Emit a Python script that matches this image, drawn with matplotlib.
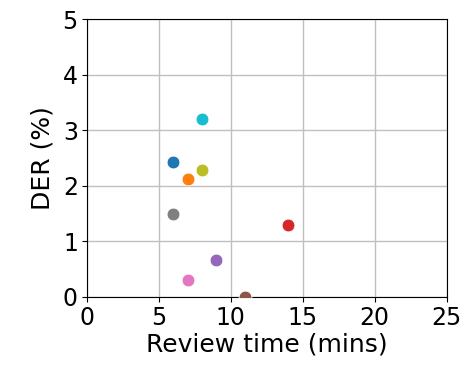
import matplotlib
matplotlib.use("Agg")
import matplotlib.pyplot as plt

review_time = [6, 7, 14, 9, 11, 7, 6, 8, 8]
der = [2.42, 2.12, 1.29, 0.67, 0.0, 0.31, 1.49, 2.29, 3.21]
colors = ["tab:blue", "tab:orange", "tab:red", "tab:purple", "tab:brown",
          "tab:pink", "tab:gray", "tab:olive", "tab:cyan"]

fig = plt.figure(figsize=(4.72, 3.67), dpi=100)
ax = fig.add_axes([0.184, 0.191, 0.762, 0.757])
for x, y, c in zip(review_time, der, colors):
    ax.scatter(x, y, s=85, color=c, edgecolors="white", linewidths=0.6, zorder=3)
ax.set_xlim(0, 25)
ax.set_ylim(0, 5)
ax.set_xticks([0, 5, 10, 15, 20, 25])
ax.set_yticks([0, 1, 2, 3, 4, 5])
ax.grid(True, color="#c0c0c0", linewidth=1.0)
ax.set_axisbelow(True)
ax.tick_params(labelsize=17, pad=3)
ax.set_xlabel("Review time (mins)", fontsize=18, labelpad=2)
ax.set_ylabel("DER (%)", fontsize=18, labelpad=6)
fig.savefig("out.png", dpi=100)
